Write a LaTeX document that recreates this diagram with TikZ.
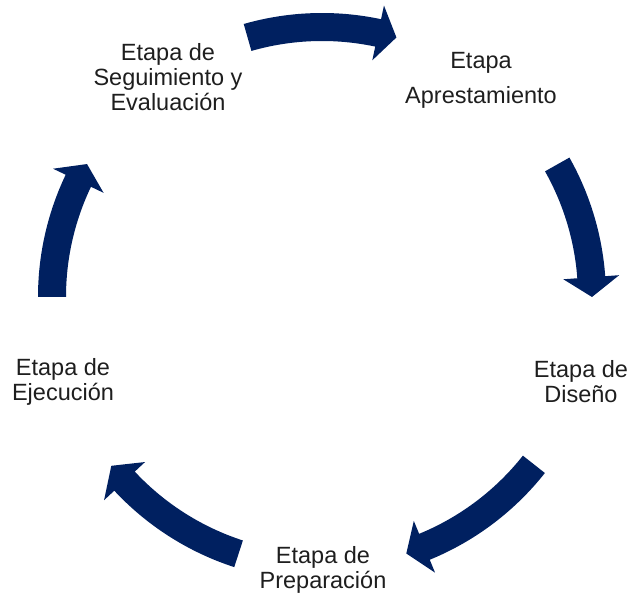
\documentclass[tikz,border=0pt]{standalone}
\usepackage{fontspec}
\setmainfont{Liberation Sans}
\definecolor{navy}{RGB}{0,32,96}
\definecolor{txt}{RGB}{30,30,30}
\tikzset{
  lbl/.style={align=center, text=txt, font=\fontsize{23.5}{25}\selectfont, inner sep=0pt},
  cyc/.style={fill=navy, draw=none}
}
\newcommand\cyclearrow[3]{%
  \fill[cyc] (#1:256pt) arc[start angle=#1, end angle=#2, radius=256pt]
    -- (#2:242pt) -- (#3:270pt) -- (#2:298pt) -- (#2:284pt)
    arc[start angle=#2, end angle=#1, radius=284pt] -- cycle;}
\begin{document}
\begin{tikzpicture}[x=1pt,y=1pt]
\useasboundingbox (0,0) rectangle (630,-596);
\coordinate (C) at (322,-297);
\begin{scope}[shift={(C)}]
  \cyclearrow{106}{78}{74}
  \cyclearrow{29.4}{4.2}{0}
  \cyclearrow{-38.3}{-67.7}{-71.8}
  \cyclearrow{-108}{-137}{-141.3}
  \cyclearrow{-180}{-205.5}{-209.5}
\end{scope}
\node[lbl] (apr) at (481,-80) {Etapa\\[10pt]Aprestamiento};
\node[lbl] (dis) at (581,-382) {Etapa de\\Diseño};
\node[lbl] (pre) at (323,-570) {Etapa de\\Preparación};
\node[lbl] (eje) at (63,-382) {Etapa de\\Ejecución};
\node[lbl] (seg) at (168,-77) {Etapa de\\Seguimiento y\\Evaluación};
\end{tikzpicture}
\end{document}
